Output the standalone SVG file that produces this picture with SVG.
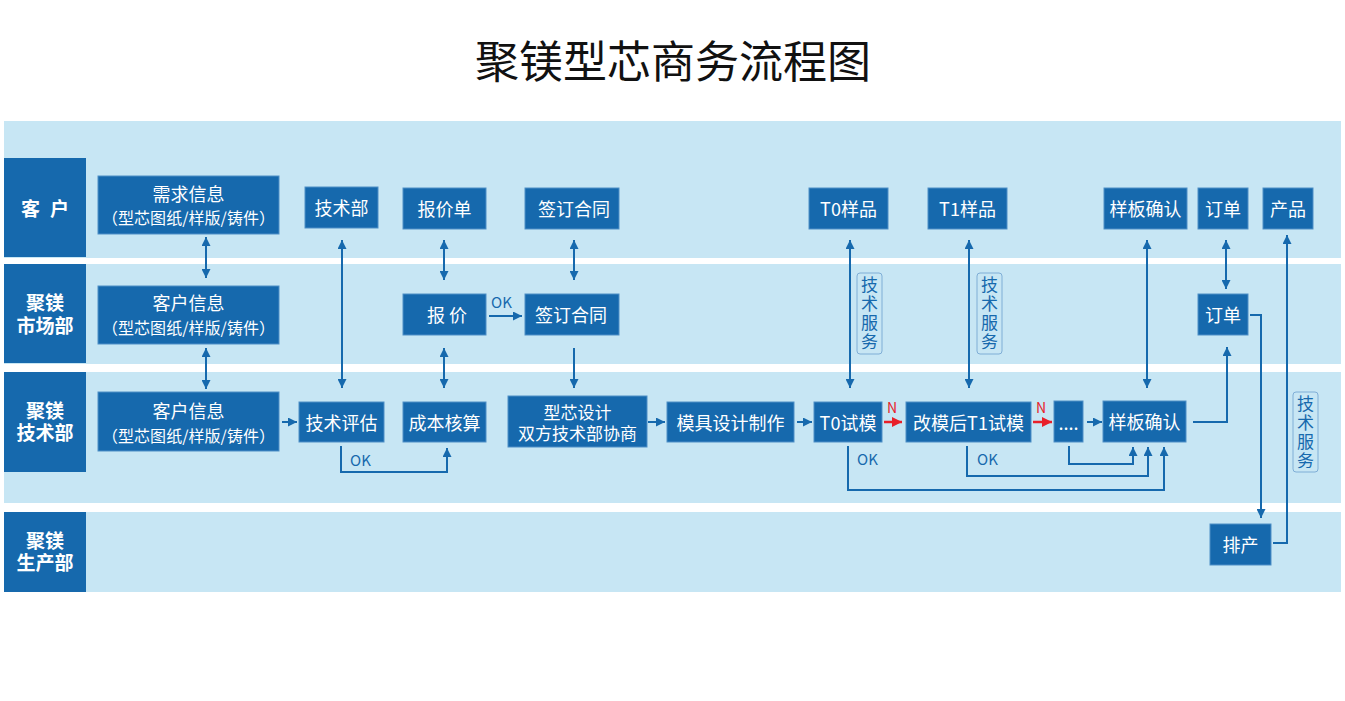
<svg xmlns="http://www.w3.org/2000/svg" width="1345" height="701" viewBox="0 0 1345 701">
<style>
  text{font-family:"Noto Sans CJK SC","Noto Sans",sans-serif;}
  .lane{fill:#C7E6F4;}
  .lab{fill:#1669AD;}
  .labt{fill:#fff;font-size:19px;font-weight:bold;text-anchor:middle;dominant-baseline:central;}
  .box{fill:#1669AD;stroke:#4F8FC6;stroke-width:1;}
  .t{fill:#fff;font-size:18px;text-anchor:middle;dominant-baseline:central;}
  .t2{fill:#fff;font-size:16px;text-anchor:middle;dominant-baseline:central;}
  .t3{fill:#fff;font-size:17px;text-anchor:middle;dominant-baseline:central;}
  .c{fill:none;stroke:#1669AD;stroke-width:2;}
  .r{fill:none;stroke:#E8202A;stroke-width:2.5;}
  .ok{fill:#1669AD;font-size:15px;}
  .n{fill:#E8202A;font-size:14px;text-anchor:middle;}
  .svc{fill:#C7E6F4;stroke:#7FAED6;stroke-width:1;}
  .svct{fill:#1669AD;font-size:17px;writing-mode:vertical-rl;letter-spacing:2px;text-anchor:middle;}
</style>
<defs>
  <marker id="a" viewBox="0 0 10 10" refX="10" refY="5" markerWidth="9" markerHeight="9" markerUnits="userSpaceOnUse" orient="auto-start-reverse">
    <path d="M0,0 L10,5 L0,10 z" fill="#1669AD"/>
  </marker>
  <marker id="ar" viewBox="0 0 10 10" refX="10" refY="5" markerWidth="10" markerHeight="10" markerUnits="userSpaceOnUse" orient="auto">
    <path d="M0,0 L10,5 L0,10 z" fill="#E8202A"/>
  </marker>
</defs>
<rect width="1345" height="701" fill="#fff"/>
<text x="673" y="59" style="font-size:44px;fill:#111;text-anchor:middle;dominant-baseline:central;">聚镁型芯商务流程图</text>

<g id="lanes">
  <rect class="lane" x="4" y="121" width="1337" height="137"/>
  <rect class="lane" x="4" y="264" width="1337" height="100"/>
  <rect class="lane" x="4" y="372" width="1337" height="131"/>
  <rect class="lane" x="4" y="512" width="1337" height="80"/>
</g>
<g id="lane-customer">
  <rect class="lab" x="4" y="158" width="82" height="99"/>
  <text class="labt" x="45" y="207" style="letter-spacing:10px;" dx="5">客户</text>
</g>
<g id="lane-market">
  <rect class="lab" x="4" y="264" width="82" height="99"/>
  <text class="labt" x="45" y="301">聚镁<tspan x="45" dy="23">市场部</tspan></text>
</g>
<g id="lane-tech">
  <rect class="lab" x="4" y="372" width="82" height="100"/>
  <text class="labt" x="45" y="409">聚镁<tspan x="45" dy="22">技术部</tspan></text>
</g>
<g id="lane-prod">
  <rect class="lab" x="4" y="512" width="82" height="80"/>
  <text class="labt" x="45" y="539">聚镁<tspan x="45" dy="22">生产部</tspan></text>
</g>

<g id="connectors">
  <line class="c" x1="206" y1="237" x2="206" y2="278" marker-start="url(#a)" marker-end="url(#a)"/>
  <line class="c" x1="206" y1="348" x2="206" y2="389" marker-start="url(#a)" marker-end="url(#a)"/>
  <line class="c" x1="282" y1="422" x2="297" y2="422" marker-end="url(#a)"/>
  <line class="c" x1="342" y1="240" x2="342" y2="388" marker-start="url(#a)" marker-end="url(#a)"/>
  <line class="c" x1="444" y1="240" x2="444" y2="280" marker-start="url(#a)" marker-end="url(#a)"/>
  <line class="c" x1="444" y1="348" x2="444" y2="388" marker-start="url(#a)" marker-end="url(#a)"/>
  <line class="c" x1="574" y1="240" x2="574" y2="280" marker-start="url(#a)" marker-end="url(#a)"/>
  <line class="c" x1="574" y1="348" x2="574" y2="388" marker-end="url(#a)"/>
  <line class="c" x1="489" y1="316" x2="522" y2="316" marker-end="url(#a)"/>
  <text class="ok" x="491" y="308">OK</text>
  <path class="c" d="M341,446 V472 H447 V448" marker-end="url(#a)"/>
  <text class="ok" x="350" y="466">OK</text>
  <line class="c" x1="648" y1="422" x2="665" y2="422" marker-end="url(#a)"/>
  <line class="c" x1="797" y1="422" x2="812" y2="422" marker-end="url(#a)"/>
  <line class="r" x1="884" y1="422" x2="902" y2="422" marker-end="url(#ar)"/>
  <text class="n" x="892" y="413">N</text>
  <line class="r" x1="1033" y1="422" x2="1052" y2="422" marker-end="url(#ar)"/>
  <text class="n" x="1041" y="413">N</text>
  <line class="c" x1="1087" y1="422" x2="1102" y2="422" marker-end="url(#a)"/>
  <line class="c" x1="850" y1="240" x2="850" y2="388" marker-start="url(#a)" marker-end="url(#a)"/>
  <line class="c" x1="969" y1="240" x2="969" y2="388" marker-start="url(#a)" marker-end="url(#a)"/>
  <line class="c" x1="1147" y1="240" x2="1147" y2="388" marker-start="url(#a)" marker-end="url(#a)"/>
  <line class="c" x1="1226" y1="240" x2="1226" y2="289" marker-start="url(#a)" marker-end="url(#a)"/>
  <path class="c" d="M1193,422 H1227 V347" marker-end="url(#a)"/>
  <path class="c" d="M1250,315 H1261 V518" marker-end="url(#a)"/>
  <path class="c" d="M1273,543 H1287 V235" marker-end="url(#a)"/>
  <path class="c" d="M848,446 V490 H1164 V447" marker-end="url(#a)"/>
  <text class="ok" x="857" y="465">OK</text>
  <path class="c" d="M967,446 V476 H1148 V447" marker-end="url(#a)"/>
  <text class="ok" x="977" y="465">OK</text>
  <path class="c" d="M1069,446 V464 H1133 V447" marker-end="url(#a)"/>
</g>

<g id="svc1">
  <rect class="svc" x="857" y="273" width="25" height="81" rx="3"/>
  <text class="svct" x="869.5" y="314">技术服务</text>
</g>
<g id="svc2">
  <rect class="svc" x="977" y="273" width="25" height="81" rx="3"/>
  <text class="svct" x="989.5" y="314">技术服务</text>
</g>
<g id="svc3">
  <rect class="svc" x="1293" y="392" width="25" height="80" rx="3"/>
  <text class="svct" x="1305.5" y="433">技术服务</text>
</g>

<g id="n-demand">
  <rect class="box" x="98" y="176" width="181" height="58"/>
  <text class="t" x="188.5" y="193">需求信息</text>
  <text class="t2" x="188.5" y="217" textLength="173" lengthAdjust="spacing">（型芯图纸/样版/铸件）</text>
</g>
<g id="n-cust-market">
  <rect class="box" x="98" y="286" width="181" height="58"/>
  <text class="t" x="188.5" y="302">客户信息</text>
  <text class="t2" x="188.5" y="327" textLength="173" lengthAdjust="spacing">（型芯图纸/样版/铸件）</text>
</g>
<g id="n-cust-tech">
  <rect class="box" x="98" y="392" width="181" height="59"/>
  <text class="t" x="188.5" y="410">客户信息</text>
  <text class="t2" x="188.5" y="435" textLength="173" lengthAdjust="spacing">（型芯图纸/样版/铸件）</text>
</g>
<g id="n-techdept">
  <rect class="box" x="305" y="187" width="73" height="41"/>
  <text class="t" x="341.5" y="207">技术部</text>
</g>
<g id="n-quote-sheet">
  <rect class="box" x="403" y="188" width="83" height="41"/>
  <text class="t" x="444.5" y="208">报价单</text>
</g>
<g id="n-contract-top">
  <rect class="box" x="525" y="188" width="94" height="41"/>
  <text class="t" x="574" y="208">签订合同</text>
</g>
<g id="n-quote">
  <rect class="box" x="403" y="294" width="83" height="41"/>
  <text class="t" x="447" y="314">报 价</text>
</g>
<g id="n-contract-mid">
  <rect class="box" x="525" y="294" width="94" height="41"/>
  <text class="t" x="571" y="314">签订合同</text>
</g>
<g id="n-eval">
  <rect class="box" x="299" y="402" width="85" height="40"/>
  <text class="t" x="341.5" y="421.5">技术评估</text>
</g>
<g id="n-cost">
  <rect class="box" x="403" y="402" width="83" height="40"/>
  <text class="t" x="444.5" y="421.5">成本核算</text>
</g>
<g id="n-design">
  <rect class="box" x="508" y="396" width="139" height="51"/>
  <text class="t3" x="577.5" y="411.5">型芯设计<tspan x="577.5" dy="20">双方技术部协商</tspan></text>
</g>
<g id="n-mold">
  <rect class="box" x="667" y="402" width="127" height="40"/>
  <text class="t" x="730.5" y="421.5">模具设计制作</text>
</g>
<g id="n-t0trial">
  <rect class="box" x="814" y="402" width="68" height="40"/>
  <text class="t" x="848" y="421.5">T0试模</text>
</g>
<g id="n-t1trial">
  <rect class="box" x="906" y="402" width="125" height="40"/>
  <text class="t" x="968.5" y="421.5">改模后T1试模</text>
</g>
<g id="n-dots">
  <rect class="box" x="1054" y="401" width="29" height="41"/>
  <text class="t" x="1068.5" y="421.5">....</text>
</g>
<g id="n-confirm-tech">
  <rect class="box" x="1103" y="401" width="83" height="41"/>
  <text class="t" x="1144.5" y="421">样板确认</text>
</g>
<g id="n-t0sample">
  <rect class="box" x="809" y="188" width="79" height="41"/>
  <text class="t" x="848.5" y="208">T0样品</text>
</g>
<g id="n-t1sample">
  <rect class="box" x="928" y="188" width="79" height="41"/>
  <text class="t" x="967.5" y="208">T1样品</text>
</g>
<g id="n-confirm-cust">
  <rect class="box" x="1104" y="188" width="83" height="41"/>
  <text class="t" x="1145.5" y="208">样板确认</text>
</g>
<g id="n-order-cust">
  <rect class="box" x="1198" y="188" width="50" height="41"/>
  <text class="t" x="1223" y="208">订单</text>
</g>
<g id="n-product">
  <rect class="box" x="1263" y="188" width="50" height="41"/>
  <text class="t" x="1288" y="208">产品</text>
</g>
<g id="n-order-market">
  <rect class="box" x="1198" y="294" width="50" height="41"/>
  <text class="t" x="1223" y="314">订单</text>
</g>
<g id="n-schedule">
  <rect class="box" x="1210" y="524" width="61" height="41"/>
  <text class="t" x="1240.5" y="544">排产</text>
</g>
</svg>
